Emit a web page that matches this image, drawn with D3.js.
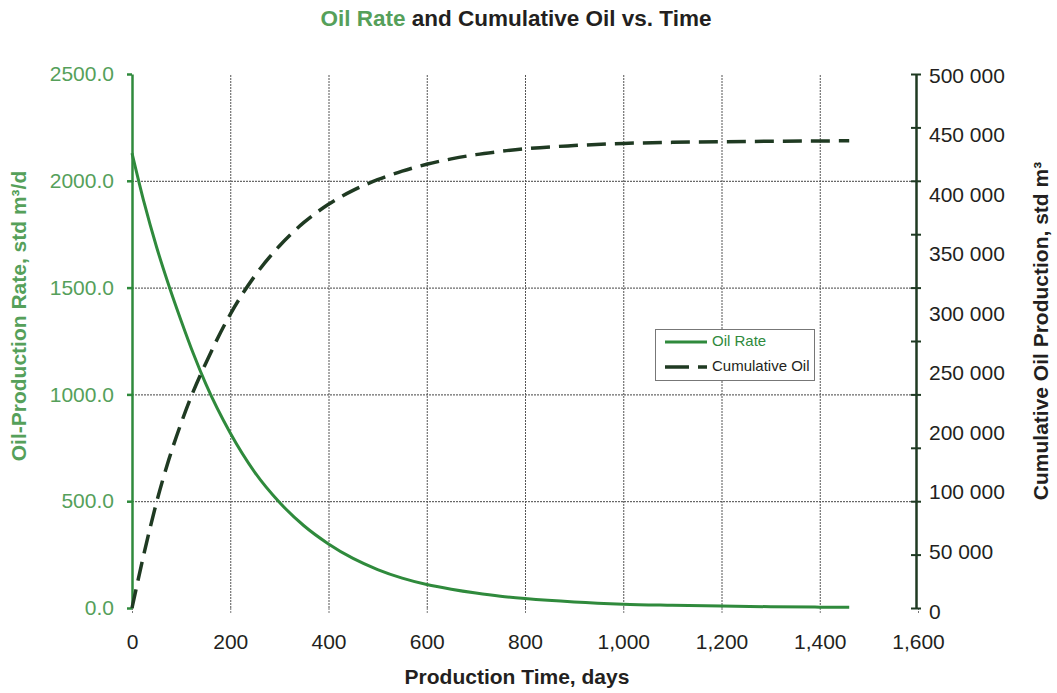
<!DOCTYPE html>
<html>
<head>
<meta charset="utf-8">
<script src="https://cdn.jsdelivr.net/npm/d3@7"></script>
<style>
  html, body { margin: 0; padding: 0; background: #fff; }
  svg { display: block; font-family: "Liberation Sans", Arial, Helvetica, sans-serif; }
</style>
</head>
<body>
<svg id="chart" width="1057" height="693"></svg>
<script>
// ---- Data ----
const days = [0, 25, 50, 75, 100, 125, 150, 200, 250, 300, 350, 400, 450, 500, 550, 600, 650, 700, 750, 800, 900, 1000, 1100, 1200, 1300, 1400, 1460];
const oilRate = [2130, 1895, 1690, 1510, 1345, 1190, 1050, 819, 635, 495, 385, 300, 232, 180, 140, 110, 88, 70, 55, 44, 28, 18, 13, 9, 6, 4, 3];
const cumulativeOil = [0, 52000, 99000, 139000, 173000, 203000, 229000, 275000, 311000, 339000, 361000, 378000, 391000, 401000, 409000, 415500, 420500, 424500, 427500, 430000, 433000, 435000, 436000, 436600, 437000, 437300, 437500];

const xTicks = [0, 200, 400, 600, 800, 1000, 1200, 1400, 1600];
const rateTicks = [0, 500, 1000, 1500, 2000, 2500];
const cumTicks = [0, 50000, 100000, 150000, 200000, 250000, 300000, 350000, 400000, 450000, 500000];
const cumLabels = ["500 000", "450 000", "400 000", "350 000", "300 000", "250 000", "200 000", "100 000", "50 000", "0"];
const seriesNames = ["Oil Rate", "Cumulative Oil"];

// ---- Style ----
const green = "#2f8a3c";
const lightGreen = "#55a05a";
const dark = "#1f3a22";
const textDark = "#231f20";

const svg = d3.select("#chart");
const L = 132, R = 918, T = 74, B = 608;

const x = d3.scaleLinear().domain([0, 1600]).range([L, R]);
const yRate = d3.scaleLinear().domain([0, 2500]).range([B, T]);
const yCum = d3.scaleLinear().domain([0, 500000]).range([B, T]);

// Gridlines - horizontal
svg.append("g")
  .attr("transform", `translate(${L},0)`)
  .call(d3.axisLeft(yRate).tickValues([500, 1000, 1500, 2000]).tickSize(-(R - L)).tickFormat(""))
  .call(g => g.select(".domain").remove())
  .call(g => g.selectAll("line").attr("stroke", "#444").attr("stroke-width", 1).attr("stroke-dasharray", "2,1"));

// Gridlines - vertical
svg.append("g")
  .attr("transform", `translate(0,${B})`)
  .call(d3.axisBottom(x).tickValues(xTicks.filter(d => d > 0 && d < 1600)).tickSize(-(B - T)).tickFormat(""))
  .call(g => g.select(".domain").remove())
  .call(g => g.selectAll("line").attr("stroke", "#555").attr("stroke-width", 1).attr("stroke-dasharray", "2,1"));

// Bottom axis (tick labels)
svg.append("g")
  .attr("transform", `translate(0,${B})`)
  .call(d3.axisBottom(x).tickValues(xTicks).tickFormat(d3.format(",")).tickSize(6).tickPadding(20))
  .call(g => g.select(".domain").remove())
  .call(g => g.selectAll("line").attr("stroke", "#777").attr("stroke-dasharray", "2,1"))
  .call(g => g.selectAll("text").attr("font-size", 21).attr("fill", textDark).attr("font-family", null));

// Left axis
svg.append("g")
  .attr("transform", `translate(${L},0)`)
  .call(d3.axisLeft(yRate).tickValues(rateTicks).tickFormat(d3.format(".1f")).tickSize(5).tickSizeOuter(0).tickPadding(13))
  .call(g => g.select(".domain").attr("stroke", green).attr("stroke-width", 2.5))
  .call(g => g.selectAll("line").attr("stroke", green).attr("stroke-width", 2.5))
  .call(g => g.selectAll("text").attr("font-size", 21).attr("fill", lightGreen).attr("font-family", null));

// Right axis (ticks)
svg.append("g")
  .attr("transform", `translate(${R - 2},0)`)
  .call(d3.axisRight(yCum).tickValues(cumTicks).tickFormat("").tickSize(5).tickSizeOuter(0))
  .call(g => g.select(".domain").attr("stroke", dark).attr("stroke-width", 2.5))
  .call(g => g.selectAll("line").attr("x1", -5).attr("stroke", dark).attr("stroke-width", 2));

// Right axis labels (as printed in the reference)
const yLab = d3.scalePoint().domain(cumLabels).range([75, 611]);
svg.append("g").selectAll("text")
  .data(cumLabels).join("text")
  .attr("x", 929)
  .attr("y", d => yLab(d))
  .attr("dy", "0.36em")
  .attr("font-size", 21)
  .attr("fill", textDark)
  .text(d => d);

// Lines
const rateLine = d3.line().x((d, i) => x(days[i])).y(d => yRate(d)).curve(d3.curveMonotoneX);
const cumLine = d3.line().x((d, i) => x(days[i])).y(d => yCum(d)).curve(d3.curveMonotoneX);

svg.append("path")
  .attr("d", rateLine(oilRate))
  .attr("fill", "none").attr("stroke", green).attr("stroke-width", 3);

svg.append("path")
  .attr("d", cumLine(cumulativeOil))
  .attr("fill", "none").attr("stroke", dark).attr("stroke-width", 3.5)
  .attr("stroke-dasharray", "19,9");

// Legend
const lg = svg.append("g");
lg.append("rect").attr("x", 655.5).attr("y", 329.5).attr("width", 159).attr("height", 51)
  .attr("fill", "#fff").attr("stroke", "#777").attr("stroke-width", 1);
lg.append("line").attr("x1", 665).attr("x2", 707).attr("y1", 342).attr("y2", 342)
  .attr("stroke", green).attr("stroke-width", 3);
lg.append("line").attr("x1", 665).attr("x2", 707).attr("y1", 367).attr("y2", 367)
  .attr("stroke", dark).attr("stroke-width", 3.5).attr("stroke-dasharray", "24,9");
lg.append("text").attr("x", 712).attr("y", 343).attr("dy", "0.2em").attr("font-size", 15)
  .attr("fill", green).text(seriesNames[0]);
lg.append("text").attr("x", 712).attr("y", 368).attr("dy", "0.2em").attr("font-size", 15)
  .attr("fill", textDark).text(seriesNames[1]);

// Title
const title = svg.append("text").attr("x", 516).attr("y", 26).attr("text-anchor", "middle")
  .attr("font-size", 22.5).attr("font-weight", "bold").attr("fill", textDark);
title.append("tspan").attr("fill", lightGreen).text("Oil Rate");
title.append("tspan").text(" and Cumulative Oil vs. Time");

// Axis titles
svg.append("text").attr("x", 517).attr("y", 684).attr("text-anchor", "middle")
  .attr("font-size", 21).attr("font-weight", "bold").attr("fill", textDark)
  .text("Production Time, days");

svg.append("text").attr("transform", "translate(26,316) rotate(-90)")
  .attr("text-anchor", "middle").attr("font-size", 21).attr("font-weight", "bold")
  .attr("fill", lightGreen).text("Oil-Production Rate, std m³/d");

svg.append("text").attr("transform", "translate(1033,331) rotate(-90)")
  .attr("text-anchor", "middle").attr("font-size", 21).attr("font-weight", "bold")
  .attr("fill", textDark).attr("dy", "0.7em").text("Cumulative Oil Production, std m³");
</script>
</body>
</html>
